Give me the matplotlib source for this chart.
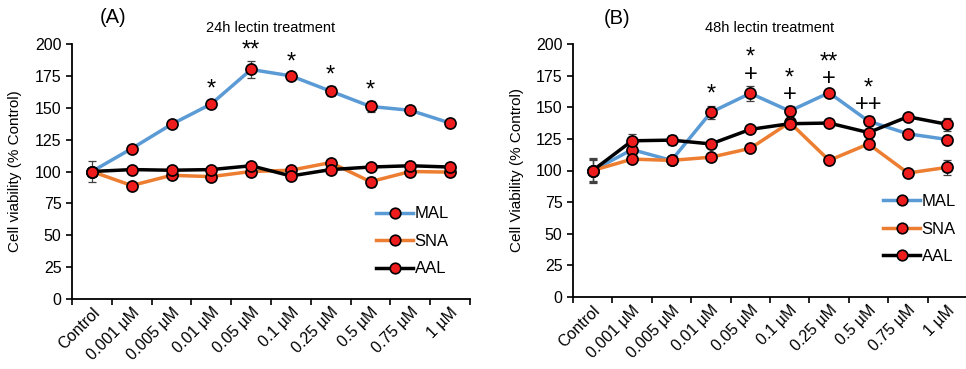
import matplotlib
matplotlib.use("Agg")
import matplotlib.pyplot as plt
import numpy as np

plt.rcParams['font.family'] = ['Liberation Sans', 'DejaVu Sans']

categories = ["Control", "0.001 µM", "0.005 µM", "0.01 µM", "0.05 µM", "0.1 µM",
              "0.25 µM", "0.5 µM", "0.75 µM", "1 µM"]

# Panel A: 24h
mal_24 = [100, 118, 137, 153, 180, 175, 163, 151, 148, 138]
sna_24 = [100, 89, 97, 96, 100, 101, 107, 92, 100, 99.5]
aal_24 = [100, 101.5, 101, 101.5, 104.5, 96.5, 101.5, 103.5, 104.5, 103.5]
mal_24_err = [8, 2, 2, 3, 6.5, 2, 4, 4, 2, 2]
sna_24_err = [2, 2, 2, 2, 2, 2, 2, 4, 2, 2]
aal_24_err = [2, 2, 2, 2, 2, 2, 2, 2, 2, 2]
sig_24 = ["", "", "", "*", "**", "*", "*", "*", "", ""]

# Panel B: 48h
mal_48 = [100, 116.5, 108, 146, 161, 147, 161.5, 139, 129, 124.5]
sna_48 = [100, 109, 108, 110.5, 117.5, 138, 108, 121, 98, 102.5]
aal_48 = [100, 123.5, 124, 121, 132.5, 137, 137.5, 130, 142.5, 136.5]
mal_48_err = [8, 3, 2, 5, 6, 4, 2, 4, 3, 2]
sna_48_err = [10, 2, 2, 2, 2, 2, 2, 2, 3, 6]
aal_48_err = [9, 5, 4, 2, 2, 2, 2, 2, 2, 5]
sig_48 = ["", "", "", "*", "*\n+", "*\n+", "**\n+", "*\n++", "", ""]

yticks = [0, 25, 50, 75, 100, 125, 150, 175, 200]

c_mal = "#5b9bd5"
c_sna = "#ed7d31"
c_aal = "#000000"

fig = plt.figure(figsize=(9.66, 3.69), dpi=100)
axA = fig.add_axes([72/966, 70/369, 398/966, 255/369])
axB = fig.add_axes([573/966, 72/369, 394/966, 253/369])


def draw(ax, mal, sna, aal, emal, esna, eaal, sig, ylabel, title, letter, letter_x):
    x = np.arange(len(categories))
    for vals, err, col, lab in [(mal, emal, c_mal, "MAL"),
                                (sna, esna, c_sna, "SNA"),
                                (aal, eaal, c_aal, "AAL")]:
        ax.errorbar(x, vals, yerr=err, fmt='none', ecolor='#404040',
                    elinewidth=0.9, capsize=3, capthick=0.9, zorder=2)
        ax.plot(x, vals, color=col, lw=2.5, marker='o', markersize=8,
                markerfacecolor='#ee1c1c', markeredgecolor='black',
                markeredgewidth=1.2, label=lab, zorder=3)
    for i, s in enumerate(sig):
        if s:
            top = mal[i] + emal[i]
            ax.annotate(s, xy=(i, top), xytext=(0, 0), textcoords='offset points',
                        ha='center', va='bottom', fontsize=17, linespacing=0.7)
    ax.set_xlim(-0.5, len(categories) - 0.5)
    ax.set_ylim(0, 200)
    ax.set_yticks(yticks)
    ax.set_xticks(np.arange(len(categories) + 1) - 0.5, minor=False)
    ax.set_xticklabels([])
    ax.set_xticks(x, minor=True)
    ax.set_xticklabels(categories, minor=True, rotation=45, ha='right',
                       rotation_mode='anchor', fontsize=11.5)
    ax.tick_params(axis='x', which='minor', length=0, pad=4)
    ax.tick_params(axis='x', which='major', length=4, width=1.2, direction='out')
    ax.tick_params(axis='y', length=4, width=1.2, direction='out', labelsize=11.5)
    for sp in ['top', 'right']:
        ax.spines[sp].set_visible(False)
    for sp in ['left', 'bottom']:
        ax.spines[sp].set_linewidth(1.3)
    ax.set_ylabel(ylabel, fontsize=11)
    ax.set_title(title, fontsize=10.5, pad=9)
    ax.text(letter_x, 1.065, letter, transform=ax.transAxes, fontsize=14.5,
            ha='center', va='bottom')
    return ax


draw(axA, mal_24, sna_24, aal_24, mal_24_err, sna_24_err, aal_24_err, sig_24,
     "Cell viability (% Control)", "24h lectin treatment", "(A)", 0.103)
draw(axB, mal_48, sna_48, aal_48, mal_48_err, sna_48_err, aal_48_err, sig_48,
     "Cell Viability (% Control)", "48h lectin treatment", "(B)", 0.112)

axA.yaxis.set_label_coords(-0.125, 0.5)
axB.yaxis.set_label_coords(-0.125, 0.5)

axA.legend(loc='lower right', bbox_to_anchor=(0.985, 0.03), frameon=False,
           fontsize=12, handlelength=2.2, handletextpad=0.1, labelspacing=0.75,
           markerscale=0.95)
axB.legend(loc='lower right', bbox_to_anchor=(1.01, 0.07), frameon=False,
           fontsize=12, handlelength=2.2, handletextpad=0.1, labelspacing=0.75,
           markerscale=0.95)

fig.savefig("out.png", dpi=100)
